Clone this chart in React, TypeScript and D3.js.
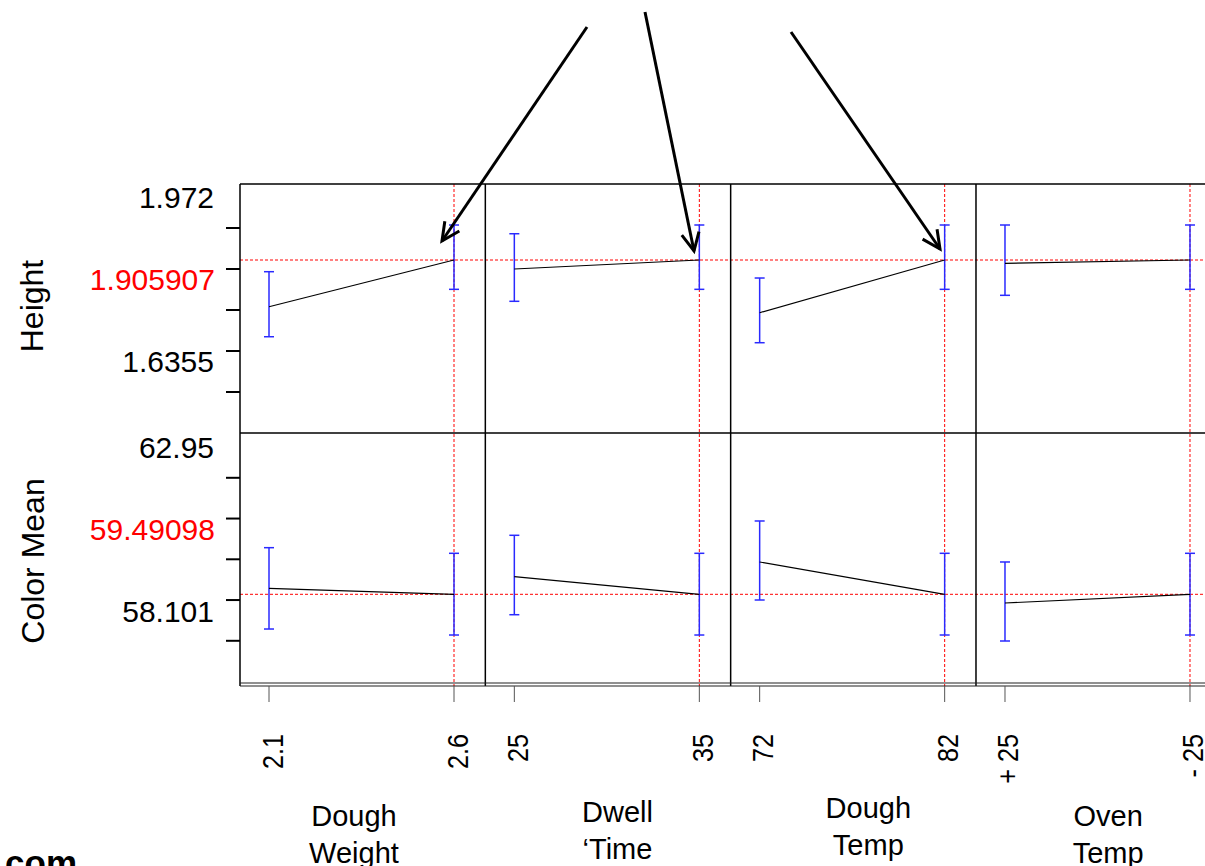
import React from "react";
import * as d3 from "d3";

// ---------- data ----------
const factors = ["Dough Weight", "Dwell Time", "Dough Temp", "Oven Temp"];
const factorLabelLines = [
  ["Dough", "Weight"],
  ["Dwell", "\u2018Time"],
  ["Dough", "Temp"],
  ["Oven", "Temp"],
];
const levels = [
  ["2.1", "2.6"],
  ["25", "35"],
  ["72", "82"],
  ["+ 25", "- 25"],
];
const currentLevel = [1, 1, 1, 1];

// Height response (first level = A, second level = B)
const heightMeanA = [1.792, 1.884, 1.7774, 1.8979];
const heightUpperA = [1.8774, 1.97, 1.862, 1.9913];
const heightLowerA = [1.7188, 1.8052, 1.7042, 1.8198];
const heightMeanB = [1.905907, 1.905907, 1.905907, 1.905907];
const heightUpperB = [1.9913, 1.9913, 1.9913, 1.9913];
const heightLowerB = [1.8344, 1.8344, 1.8344, 1.8344];
const heightCurrent = 1.905907;
const heightDomain = [1.484, 2.0913];
const heightTicks = [1.584, 1.684, 1.784, 1.884, 1.984];
const heightAxisLabels = ["1.972", "1.905907", "1.6355"];

// Color Mean response
const colorMeanA = [59.638, 59.923, 60.284, 59.277];
const colorUpperA = [60.635, 60.939, 61.29, 60.284];
const colorLowerA = [58.639, 58.99, 59.351, 58.345];
const colorMeanB = [59.49098, 59.49098, 59.49098, 59.49098];
const colorUpperB = [60.497, 60.497, 60.497, 60.497];
const colorLowerB = [58.492, 58.492, 58.492, 58.492];
const colorCurrent = 59.49098;
const colorDomain = [57.3143, 63.4493];
const colorTicks = [58.35, 59.35, 60.35, 61.35, 62.35];
const colorAxisLabels = ["62.95", "59.49098", "58.101"];

const responses = ["Height", "Color Mean"];

// annotation arrows (from, to) in page pixels
const arrows = [
  { from: [587, 27], to: [442, 241] },
  { from: [645, 12], to: [694, 251] },
  { from: [791, 32], to: [940, 249] },
];

// ---------- layout ----------
const W = 1205;
const H = 866;
const LEFT = 240;
const PANEL_W = 245.33;
const ROW_TOP = [184, 433];
const ROW_BOT = [433, 683];
const FONT = "'Liberation Sans', Arial, Helvetica, sans-serif";
const labelOffsetX = [-8.7, 9.5, 15, 9.5];
const labelBaseY = [826, 822, 818, 826];

export default function App() {
  const band = d3
    .scaleBand<string>()
    .domain(factors)
    .range([LEFT, LEFT + PANEL_W * factors.length])
    .padding(0);

  const xScales = factors.map((f, i) =>
    d3
      .scalePoint<string>()
      .domain(levels[i])
      .range([(band(f) as number) + 29, (band(f) as number) + 214])
  );

  const rows = [
    {
      name: responses[0],
      y: d3.scaleLinear().domain(heightDomain).range([ROW_BOT[0], ROW_TOP[0]]),
      ticks: heightTicks,
      labels: heightAxisLabels,
      current: heightCurrent,
      meanA: heightMeanA,
      upA: heightUpperA,
      loA: heightLowerA,
      meanB: heightMeanB,
      upB: heightUpperB,
      loB: heightLowerB,
      titleX: 43,
    },
    {
      name: responses[1],
      y: d3.scaleLinear().domain(colorDomain).range([ROW_BOT[1], ROW_TOP[1]]),
      ticks: colorTicks,
      labels: colorAxisLabels,
      current: colorCurrent,
      meanA: colorMeanA,
      upA: colorUpperA,
      loA: colorLowerA,
      meanB: colorMeanB,
      upB: colorUpperB,
      loB: colorLowerB,
      titleX: 44,
    },
  ];

  const blue = "#2a2aff";
  const capHalf = 5;

  const errorBar = (x: number, yTop: number, yBot: number, key: string) => (
    <g key={key} stroke={blue} strokeWidth={1.5}>
      <line x1={x} x2={x} y1={yTop} y2={yBot} />
      <line x1={x - capHalf} x2={x + capHalf} y1={yTop} y2={yTop} />
      <line x1={x - capHalf} x2={x + capHalf} y1={yBot} y2={yBot} />
    </g>
  );

  const arrowHead = (from: number[], to: number[]) => {
    const ang = Math.atan2(from[1] - to[1], from[0] - to[0]);
    const L = 20;
    const a = (26 * Math.PI) / 180;
    const p1 = [to[0] + L * Math.cos(ang + a), to[1] + L * Math.sin(ang + a)];
    const p2 = [to[0] + L * Math.cos(ang - a), to[1] + L * Math.sin(ang - a)];
    return `M${p1[0]},${p1[1]}L${to[0]},${to[1]}L${p2[0]},${p2[1]}`;
  };

  const rightEdge = LEFT + PANEL_W * factors.length;

  return (
    <svg
      width={W}
      height={H}
      viewBox={`0 0 ${W} ${H}`}
      style={{ position: "absolute", left: 0, top: 0, display: "block", background: "#fff" }}
      fontFamily={FONT}
    >
      <rect x={0} y={0} width={W} height={H} fill="#fff" />

      {/* red dashed reference lines */}
      {rows.map((r, ri) => (
        <line
          key={`hr${ri}`}
          x1={LEFT}
          x2={rightEdge}
          y1={r.y(r.current)}
          y2={r.y(r.current)}
          stroke="#ff0000"
          strokeWidth={1}
          strokeDasharray="3 2"
        />
      ))}
      {factors.map((f, i) => {
        const x = xScales[i](levels[i][currentLevel[i]]) as number;
        return (
          <line
            key={`vr${i}`}
            x1={x}
            x2={x}
            y1={ROW_TOP[0]}
            y2={686}
            stroke="#ff0000"
            strokeWidth={1}
            strokeDasharray="3 2"
          />
        );
      })}

      {/* panels contents */}
      {rows.map((r, ri) =>
        factors.map((f, i) => {
          const xa = xScales[i](levels[i][0]) as number;
          const xb = xScales[i](levels[i][1]) as number;
          return (
            <g key={`p${ri}-${i}`}>
              {errorBar(xa, r.y(r.upA[i]), r.y(r.loA[i]), "a")}
              {errorBar(xb, r.y(r.upB[i]), r.y(r.loB[i]), "b")}
              <line
                x1={xa}
                x2={xb}
                y1={r.y(r.meanA[i])}
                y2={r.y(r.meanB[i])}
                stroke="#000"
                strokeWidth={1.2}
              />
            </g>
          );
        })
      )}

      {/* panel borders */}
      <g stroke="#000" strokeWidth={1.5} fill="none">
        <line x1={LEFT} x2={rightEdge} y1={ROW_TOP[0]} y2={ROW_TOP[0]} />
        <line x1={LEFT} x2={rightEdge} y1={ROW_TOP[1]} y2={ROW_TOP[1]} />
        <line x1={LEFT} x2={LEFT} y1={ROW_TOP[0]} y2={686} />
        {factors.slice(1).map((f) => (
          <line key={`d${f}`} x1={band(f) as number} x2={band(f) as number} y1={ROW_TOP[0]} y2={686} />
        ))}
      </g>
      <g stroke="#222" strokeWidth={1.2}>
        <line x1={LEFT} x2={rightEdge} y1={683} y2={683} />
        <line x1={LEFT} x2={rightEdge} y1={686} y2={686} />
      </g>

      {/* y axes */}
      {rows.map((r, ri) => (
        <g key={`ya${ri}`}>
          {r.ticks.map((t, ti) => (
            <line
              key={ti}
              x1={226}
              x2={LEFT}
              y1={r.y(t)}
              y2={r.y(t)}
              stroke="#000"
              strokeWidth={2}
            />
          ))}
          <text x={214} y={r.y(r.ticks[4]) - 20} fontSize={30} textAnchor="end" fill="#000">
            {r.labels[0]}
          </text>
          <text x={215} y={r.y(r.ticks[3]) + 21} fontSize={30} textAnchor="end" fill="#ff0000">
            {r.labels[1]}
          </text>
          <text x={214} y={r.y(r.ticks[1]) + 21.5} fontSize={30} textAnchor="end" fill="#000">
            {r.labels[2]}
          </text>
          <text
            transform={`translate(${r.titleX},${(ROW_TOP[ri] + ROW_BOT[ri]) / 2 - (ri === 0 ? 2.5 : -3)}) rotate(-90)`}
            fontSize={32}
            textAnchor="middle"
            fill="#000"
          >
            {r.name}
          </text>
        </g>
      ))}

      {/* x axes */}
      {factors.map((f, i) => (
        <g key={`xa${i}`}>
          {levels[i].map((lv) => {
            const x = xScales[i](lv) as number;
            return (
              <g key={lv}>
                <line x1={x} x2={x} y1={686} y2={702} stroke="#555" strokeWidth={1} />
                <text
                  transform={`translate(${x + 13.5},734) rotate(-90) scale(0.84,1)`}
                  fontSize={30}
                  textAnchor="end"
                  fill="#000"
                >
                  {lv}
                </text>
              </g>
            );
          })}
          {factorLabelLines[i].map((line, li) => (
            <text
              key={li}
              x={(band(f) as number) + band.bandwidth() / 2 + labelOffsetX[i]}
              y={labelBaseY[i] + li * 36.5}
              fontSize={29}
              textAnchor="middle"
              fill="#000"
            >
              {line}
            </text>
          ))}
        </g>
      ))}

      {/* annotation arrows */}
      <g stroke="#000" strokeWidth={3} fill="none" strokeLinecap="butt">
        {arrows.map((a, i) => (
          <g key={`ar${i}`}>
            <line x1={a.from[0]} y1={a.from[1]} x2={a.to[0]} y2={a.to[1]} />
            <path d={arrowHead(a.from, a.to)} />
          </g>
        ))}
      </g>

      <text x={-4.7} y={875} fontSize={35} fontWeight="bold" fill="#000">
        .com
      </text>
    </svg>
  );
}
